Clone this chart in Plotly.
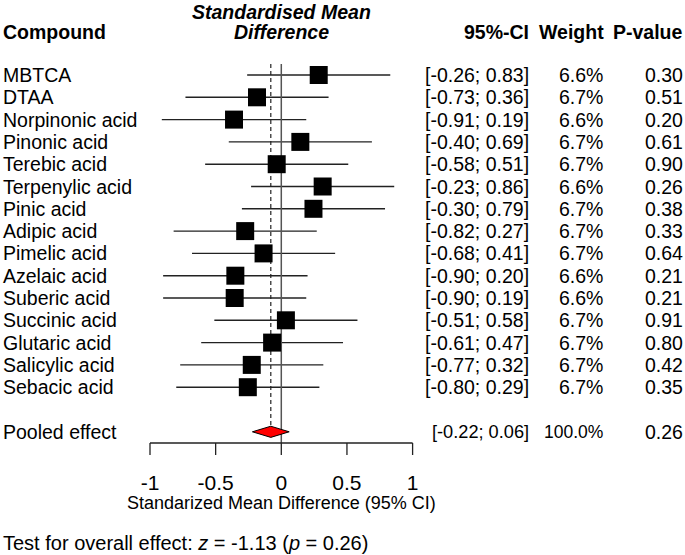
import plotly.graph_objects as go

# ---------------- data ----------------
compounds = ["MBTCA", "DTAA", "Norpinonic acid", "Pinonic acid", "Terebic acid",
             "Terpenylic acid", "Pinic acid", "Adipic acid", "Pimelic acid",
             "Azelaic acid", "Suberic acid", "Succinic acid", "Glutaric acid",
             "Salicylic acid", "Sebacic acid"]
smd = [0.285, -0.185, -0.36, 0.145, -0.035, 0.315, 0.245, -0.275, -0.135,
       -0.35, -0.355, 0.035, -0.07, -0.225, -0.255]
ci_lower = [-0.26, -0.73, -0.91, -0.40, -0.58, -0.23, -0.30, -0.82, -0.68,
            -0.90, -0.90, -0.51, -0.61, -0.77, -0.80]
ci_upper = [0.83, 0.36, 0.19, 0.69, 0.51, 0.86, 0.79, 0.27, 0.41,
            0.20, 0.19, 0.58, 0.47, 0.32, 0.29]
weights = ["6.6%", "6.7%", "6.6%", "6.7%", "6.7%", "6.6%", "6.7%", "6.7%",
           "6.7%", "6.6%", "6.6%", "6.7%", "6.7%", "6.7%", "6.7%"]
pvalues = ["0.30", "0.51", "0.20", "0.61", "0.90", "0.26", "0.38", "0.33",
           "0.64", "0.21", "0.21", "0.91", "0.80", "0.42", "0.35"]

pooled_label = "Pooled effect"
pooled_est = -0.08
pooled_lower = -0.22
pooled_upper = 0.06
pooled_weight = "100.0%"
pooled_p = "0.26"

tick_values = [-1, -0.5, 0, 0.5, 1]
tick_labels = ["-1", "-0.5", "0", "0.5", "1"]

# ---------------- geometry ----------------
W, H = 685, 555
X0_PX, UNIT_PX = 281.3, 131.3        # pixel of x=0, pixels per unit
ROW0_PX, ROW_PX = 75.0, 22.3         # pixel of first row, pixels per row
x_range = [(0 - X0_PX) / UNIT_PX, (W - X0_PX) / UNIT_PX]
y_range = [(H - ROW0_PX) / ROW_PX, (0 - ROW0_PX) / ROW_PX]


def prow(px):
    return (px - ROW0_PX) / ROW_PX


FONT = "Liberation Sans, Arial, sans-serif"
FS = 19.5
n = len(compounds)
rows = list(range(n))
pooled_row = n + 1
axis_row = prow(443)
tick_end_row = prow(455)

fig = go.Figure()

# CI lines
cx, cy = [], []
for i in rows:
    cx += [ci_lower[i], ci_upper[i], None]
    cy += [i, i, None]
fig.add_trace(go.Scatter(x=cx, y=cy, mode="lines",
                         line=dict(color="#222222", width=1.4),
                         hoverinfo="skip", showlegend=False))

# reference lines
fig.add_trace(go.Scatter(x=[0, 0], y=[prow(64), axis_row], mode="lines",
                         line=dict(color="#555555", width=1.5),
                         hoverinfo="skip", showlegend=False))
fig.add_trace(go.Scatter(x=[pooled_est, pooled_est], y=[prow(64), pooled_row - 0.25],
                         mode="lines",
                         line=dict(color="#222222", width=1.2, dash="4px,3px"),
                         hoverinfo="skip", showlegend=False))

# squares
fig.add_trace(go.Scatter(x=smd, y=rows, mode="markers",
                         marker=dict(symbol="square", size=18, color="black",
                                     line=dict(width=0)),
                         hoverinfo="skip", showlegend=False))

# diamond
fig.add_trace(go.Scatter(
    x=[pooled_lower, pooled_est, pooled_upper, pooled_est, pooled_lower],
    y=[pooled_row, pooled_row - 0.25, pooled_row, pooled_row + 0.25, pooled_row],
    mode="lines", fill="toself", fillcolor="#ff0000",
    line=dict(color="black", width=1), hoverinfo="skip", showlegend=False))

# x axis line and ticks
ax_x = [tick_values[0], tick_values[-1], None]
ax_y = [axis_row, axis_row, None]
for t in tick_values:
    ax_x += [t, t, None]
    ax_y += [axis_row, tick_end_row, None]
fig.add_trace(go.Scatter(x=ax_x, y=ax_y, mode="lines",
                         line=dict(color="#222222", width=1.3),
                         hoverinfo="skip", showlegend=False))

# tick labels
fig.add_trace(go.Scatter(x=tick_values, y=[prow(485)] * len(tick_values),
                         mode="text", text=tick_labels,
                         textfont=dict(family=FONT, size=21, color="black"),
                         hoverinfo="skip", showlegend=False))

ann = []


def text(x, y, s, anchor="left", size=FS, xref="paper"):
    ann.append(dict(x=x, y=y, xref=xref, yref="y", text=s, showarrow=False,
                    xanchor=anchor, yanchor="middle", borderpad=0, borderwidth=0,
                    font=dict(family=FONT, size=size, color="black")))


# headers
text(3 / W, prow(32), "<b>Compound</b>")
text(0, prow(12), "<b><i>Standardised Mean</i></b>", anchor="center", xref="x")
text(0, prow(32), "<b><i>Difference</i></b>", anchor="center", xref="x")
text(529 / W, prow(32), "<b>95%-CI</b>", anchor="right")
text(604 / W, prow(32), "<b>Weight</b>", anchor="right")
text(683 / W, prow(32), "<b>P-value</b>", anchor="right")

for i in rows:
    text(3 / W, i, compounds[i])
    text(529 / W, i, "[%.2f; %.2f]" % (ci_lower[i], ci_upper[i]), anchor="right")
    text(603 / W, i, weights[i], anchor="right")
    text(683 / W, i, pvalues[i], anchor="right")

text(3 / W, pooled_row, pooled_label)
text(529 / W, pooled_row, "[%.2f; %.2f]" % (pooled_lower, pooled_upper),
     anchor="right", size=18.2)
text(603 / W, pooled_row, pooled_weight, anchor="right", size=17.5)
text(683 / W, pooled_row, pooled_p, anchor="right")

# axis title and test line
text(0, prow(503), "Standarized Mean Difference (95% CI)", anchor="center",
     xref="x", size=18)
text(3 / W, prow(543), "Test for overall effect: <i>z</i> = -1.13 (<i>p</i> = 0.26)",
     size=20)

fig.update_layout(
    width=W, height=H,
    margin=dict(l=0, r=0, t=0, b=0),
    paper_bgcolor="white", plot_bgcolor="white",
    xaxis=dict(range=x_range, visible=False, fixedrange=True),
    yaxis=dict(range=y_range, visible=False, fixedrange=True),
    annotations=ann,
    showlegend=False,
)

fig.write_html("out.html",
               config={"displayModeBar": False},
               post_script="document.body.style.margin='0';"
                           "document.body.style.overflow='hidden';")
